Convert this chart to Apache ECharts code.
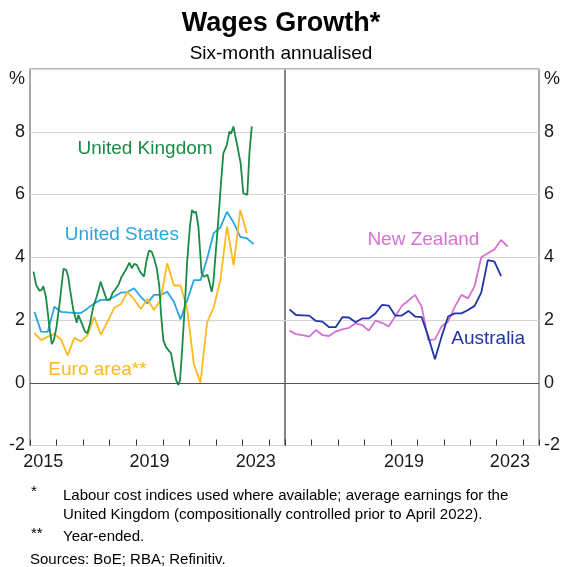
<!DOCTYPE html>
<html>
<head>
<meta charset="utf-8">
<script src="https://cdn.jsdelivr.net/npm/echarts@6/dist/echarts.min.js"></script>
<style>
  html, body { margin: 0; padding: 0; background: #fff; }
  #chart { width: 562px; height: 567px; }
</style>
</head>
<body>
<div id="chart"></div>
<script>
// Quarterly observations, dated by the last month of each quarter
const quarters = [
  '2015-03','2015-06','2015-09','2015-12','2016-03','2016-06','2016-09','2016-12',
  '2017-03','2017-06','2017-09','2017-12','2018-03','2018-06','2018-09','2018-12',
  '2019-03','2019-06','2019-09','2019-12','2020-03','2020-06','2020-09','2020-12',
  '2021-03','2021-06','2021-09','2021-12','2022-03','2022-06','2022-09','2022-12',
  '2023-03','2023-06'
];

// United Kingdom, monthly (decimal years)
const ukDates = [
  2015.13, 2015.23, 2015.35, 2015.44, 2015.50, 2015.60, 2015.73, 2015.82, 2015.90,
  2016.00, 2016.13, 2016.26, 2016.36, 2016.44, 2016.51, 2016.63, 2016.76, 2016.82, 2016.95,
  2017.07, 2017.16, 2017.26, 2017.38, 2017.51, 2017.66, 2017.76, 2017.89,
  2018.01, 2018.11, 2018.20, 2018.33, 2018.45, 2018.61, 2018.74, 2018.83, 2018.92,
  2019.02, 2019.14, 2019.29, 2019.39, 2019.48, 2019.58, 2019.67, 2019.77, 2019.87, 2019.93,
  2020.02, 2020.11, 2020.21, 2020.31, 2020.40, 2020.50, 2020.58, 2020.65, 2020.75, 2020.84, 2020.92,
  2021.02, 2021.10, 2021.17, 2021.25, 2021.34, 2021.40, 2021.46, 2021.55, 2021.61, 2021.68, 2021.75, 2021.84, 2021.90, 2021.99,
  2022.09, 2022.18, 2022.28, 2022.40, 2022.51, 2022.57, 2022.66, 2022.72, 2022.81, 2022.88, 2022.93,
  2023.03, 2023.09, 2023.18, 2023.26, 2023.35
];
const ukValues = [
  3.54, 3.12, 2.94, 2.96, 3.08, 2.74, 1.79, 1.23, 1.36,
  1.79, 2.64, 3.63, 3.60, 3.38, 2.96, 2.32, 1.91, 2.16, 1.89,
  1.63, 1.58, 1.89, 2.42, 2.74, 3.22, 2.96, 2.64,
  2.64, 2.87, 2.96, 3.12, 3.38, 3.60, 3.83, 3.65, 3.79,
  3.76, 3.54, 3.38, 3.91, 4.21, 4.18, 3.97, 3.65, 3.06, 2.21,
  1.36, 1.15, 1.04, 0.94, 0.51, 0.09, -0.07, 0.09, 1.36, 2.64, 3.91,
  4.98, 5.51, 5.42, 5.45, 4.98, 4.23, 3.49, 3.38, 3.33, 3.44, 3.22, 2.90, 3.17, 4.13,
  5.19, 6.25, 7.32, 7.55, 8.01, 7.94, 8.17, 7.90, 7.53, 7.21, 7.00,
  6.04, 6.10, 5.99, 7.32, 8.17
];

// United States, quarterly (Mar-2015 to Jun-2023)
const usValues = [
  2.26, 1.63, 1.62, 2.42, 2.26, 2.24, 2.23, 2.22, 2.37, 2.53,
  2.64, 2.64, 2.74, 2.87, 2.89, 3.01, 2.74, 2.53, 2.80, 2.80,
  2.90, 2.58, 2.02, 2.62, 3.27, 3.27, 3.95, 4.77, 4.95, 5.45,
  5.10, 4.65, 4.60, 4.42
];

// Euro area, quarterly year-ended (Mar-2015 to Mar-2023)
const euroValues = [
  1.58, 1.36, 1.47, 1.55, 1.38, 0.87, 1.43, 1.32, 1.52, 2.10,
  1.53, 1.95, 2.38, 2.50, 2.90, 2.66, 2.35, 2.67, 2.32, 2.64,
  3.81, 3.10, 3.10, 2.35, 0.60, 0.00, 1.92, 2.40, 3.27, 4.98,
  3.74, 5.51, 4.76
];

// Australia, quarterly (Mar-2015 to Mar-2023)
const ausValues = [
  2.34, 2.16, 2.15, 2.14, 1.97, 1.95, 1.77, 1.77, 2.09, 2.08,
  1.93, 2.05, 2.05, 2.21, 2.48, 2.46, 2.14, 2.14, 2.29, 2.11,
  2.09, 1.47, 0.75, 1.47, 2.11, 2.21, 2.21, 2.32, 2.45, 2.87,
  3.91, 3.86, 3.40
];

// New Zealand, quarterly (Mar-2015 to Jun-2023)
const nzValues = [
  1.66, 1.55, 1.52, 1.47, 1.68, 1.52, 1.49, 1.63, 1.70, 1.75,
  1.89, 1.84, 1.66, 1.98, 1.91, 1.79, 2.11, 2.45, 2.62, 2.80,
  2.42, 1.36, 1.38, 1.79, 1.95, 2.42, 2.80, 2.69, 3.08, 4.00,
  4.13, 4.25, 4.55, 4.34
];

const yTicks = [-2, 0, 2, 4, 6, 8, 10];
const leftYearLabels = [2015, 2019, 2023];
const rightYearLabels = [2019, 2023];

const FONT = "'Liberation Sans', Arial, Helvetica, sans-serif";
const COLORS = {
  uk: '#1b8a46', us: '#26a6e3', euro: '#ffb822', nz: '#d572d4', aus: '#1f35a5'
};

function monthToYear(s) {
  const [y, m] = s.split('-').map(Number);
  return y + (m - 1) / 12;
}
function pairs(dates, values) {
  return values.map((v, i) => [dates[i], v]);
}
const qYears = quarters.map(monthToYear);

const X_MIN = 2015, X_MAX = 2024.6;

// Year-boundary ticks pointing into the plot
function tickAxis(gridIndex) {
  return {
    type: 'value', gridIndex, position: 'bottom',
    min: X_MIN, max: X_MAX, interval: 1,
    axisLine: { show: false, onZero: false },
    axisTick: { show: true, inside: true, length: 6, lineStyle: { color: '#333', width: 1 } },
    axisLabel: { show: false },
    splitLine: { show: false }
  };
}
// Year labels centred between the ticks
function labelAxis(gridIndex, years) {
  return {
    type: 'value', gridIndex, position: 'bottom',
    min: X_MIN, max: X_MAX, interval: 0.5,
    axisLine: { show: false, onZero: false }, axisTick: { show: false },
    splitLine: { show: false },
    axisLabel: {
      show: true, margin: 8, fontSize: 18, color: '#1a1a1a', fontFamily: FONT,
      showMinLabel: true, showMaxLabel: true,
      formatter: (v) => {
        const y = Math.floor(v + 1e-6);
        return (Math.abs(v - y - 0.5) < 1e-6 && years.includes(y)) ? String(y) : '';
      }
    }
  };
}
function yAxis(gridIndex, position) {
  return {
    type: 'value', gridIndex, position,
    min: yTicks[0], max: yTicks[yTicks.length - 1], interval: 2,
    axisLine: { show: false }, axisTick: { show: false },
    splitLine: { show: true, lineStyle: { color: '#d4d4d4', width: 1 } },
    axisLabel: {
      show: true, margin: 5, fontSize: 18, color: '#1a1a1a', fontFamily: FONT,
      formatter: (v) => v === 10 ? '{p|%}' : String(v),
      rich: { p: { fontSize: 18, color: '#1a1a1a', fontFamily: FONT, padding: [20, 0, 0, 0] } }
    }
  };
}

function nameTag(text, color, coord) {
  return {
    symbol: 'circle', symbolSize: 1, silent: true,
    itemStyle: { color: 'rgba(0,0,0,0)' },
    label: { show: true, position: 'inside', formatter: text, color, fontSize: 19, fontFamily: FONT },
    data: [{ coord }]
  };
}
const zeroLine = {
  silent: true, symbol: 'none',
  lineStyle: { color: '#555', width: 1, type: 'solid' },
  label: { show: false },
  data: [{ yAxis: 0 }]
};

function lineSeries(name, data, color, xi, yi, extra) {
  return Object.assign({
    name, type: 'line', data, xAxisIndex: xi, yAxisIndex: yi,
    showSymbol: false, symbol: 'none', smooth: false,
    lineStyle: { color, width: 1.8 }, itemStyle: { color },
    animation: false, z: 3
  }, extra || {});
}

const noteStyle = { fontSize: 15, fontWeight: 'normal', color: '#000', fontFamily: FONT };

const chart = echarts.init(document.getElementById('chart'), null, { renderer: 'canvas' });
chart.setOption({
  backgroundColor: '#fff',
  animation: false,
  textStyle: { fontFamily: FONT },
  title: [
    { text: 'Wages Growth*', left: 'center', top: 10, padding: 0,
      textStyle: { fontSize: 27, fontWeight: 'bold', color: '#000', fontFamily: FONT } },
    { text: 'Six-month annualised', left: 'center', top: 44, padding: 0,
      textStyle: { fontSize: 19, fontWeight: 'normal', color: '#000', fontFamily: FONT } },
    { text: '*', left: 31, top: 484, padding: 0, textStyle: noteStyle },
    { text: 'Labour cost indices used where available; average earnings for the\nUnited Kingdom (compositionally controlled prior to April 2022).',
      left: 63, top: 486, padding: 0,
      textStyle: Object.assign({ lineHeight: 19 }, noteStyle) },
    { text: '**', left: 31, top: 526, padding: 0, textStyle: noteStyle },
    { text: 'Year-ended.', left: 63, top: 529, padding: 0, textStyle: noteStyle },
    { text: 'Sources: BoE; RBA; Refinitiv.', left: 30, top: 552, padding: 0, textStyle: noteStyle }
  ],
  grid: [
    { left: 30, right: 277, top: 69, bottom: 121.5, show: true, borderColor: '#6f6f6f', borderWidth: 1.2,
      backgroundColor: 'transparent', containLabel: false, outerBoundsMode: 'none' },
    { left: 285, right: 23, top: 69, bottom: 121.5, show: true, borderColor: '#6f6f6f', borderWidth: 1.2,
      backgroundColor: 'transparent', containLabel: false, outerBoundsMode: 'none' }
  ],
  xAxis: [
    tickAxis(0), labelAxis(0, leftYearLabels),
    tickAxis(1), labelAxis(1, rightYearLabels)
  ],
  yAxis: [ yAxis(0, 'left'), yAxis(1, 'right') ],
  series: [
    lineSeries('United States', pairs(qYears, usValues), COLORS.us, 0, 0,
      { markPoint: nameTag('United States', COLORS.us, [2018.46, 4.71]) }),
    lineSeries('Euro area', pairs(qYears, euroValues), COLORS.euro, 0, 0,
      { markPoint: nameTag('Euro area**', COLORS.euro, [2017.54, 0.40]) }),
    lineSeries('United Kingdom', pairs(ukDates, ukValues), COLORS.uk, 0, 0,
      { markPoint: nameTag('United Kingdom', COLORS.uk, [2019.33, 7.45]), markLine: zeroLine }),
    lineSeries('New Zealand', pairs(qYears, nzValues), COLORS.nz, 2, 1,
      { markPoint: nameTag('New Zealand', COLORS.nz, [2020.23, 4.55]) }),
    lineSeries('Australia', pairs(qYears, ausValues), COLORS.aus, 2, 1,
      { markPoint: nameTag('Australia', COLORS.aus, [2022.68, 1.39]), markLine: zeroLine })
  ]
});
</script>
</body>
</html>
